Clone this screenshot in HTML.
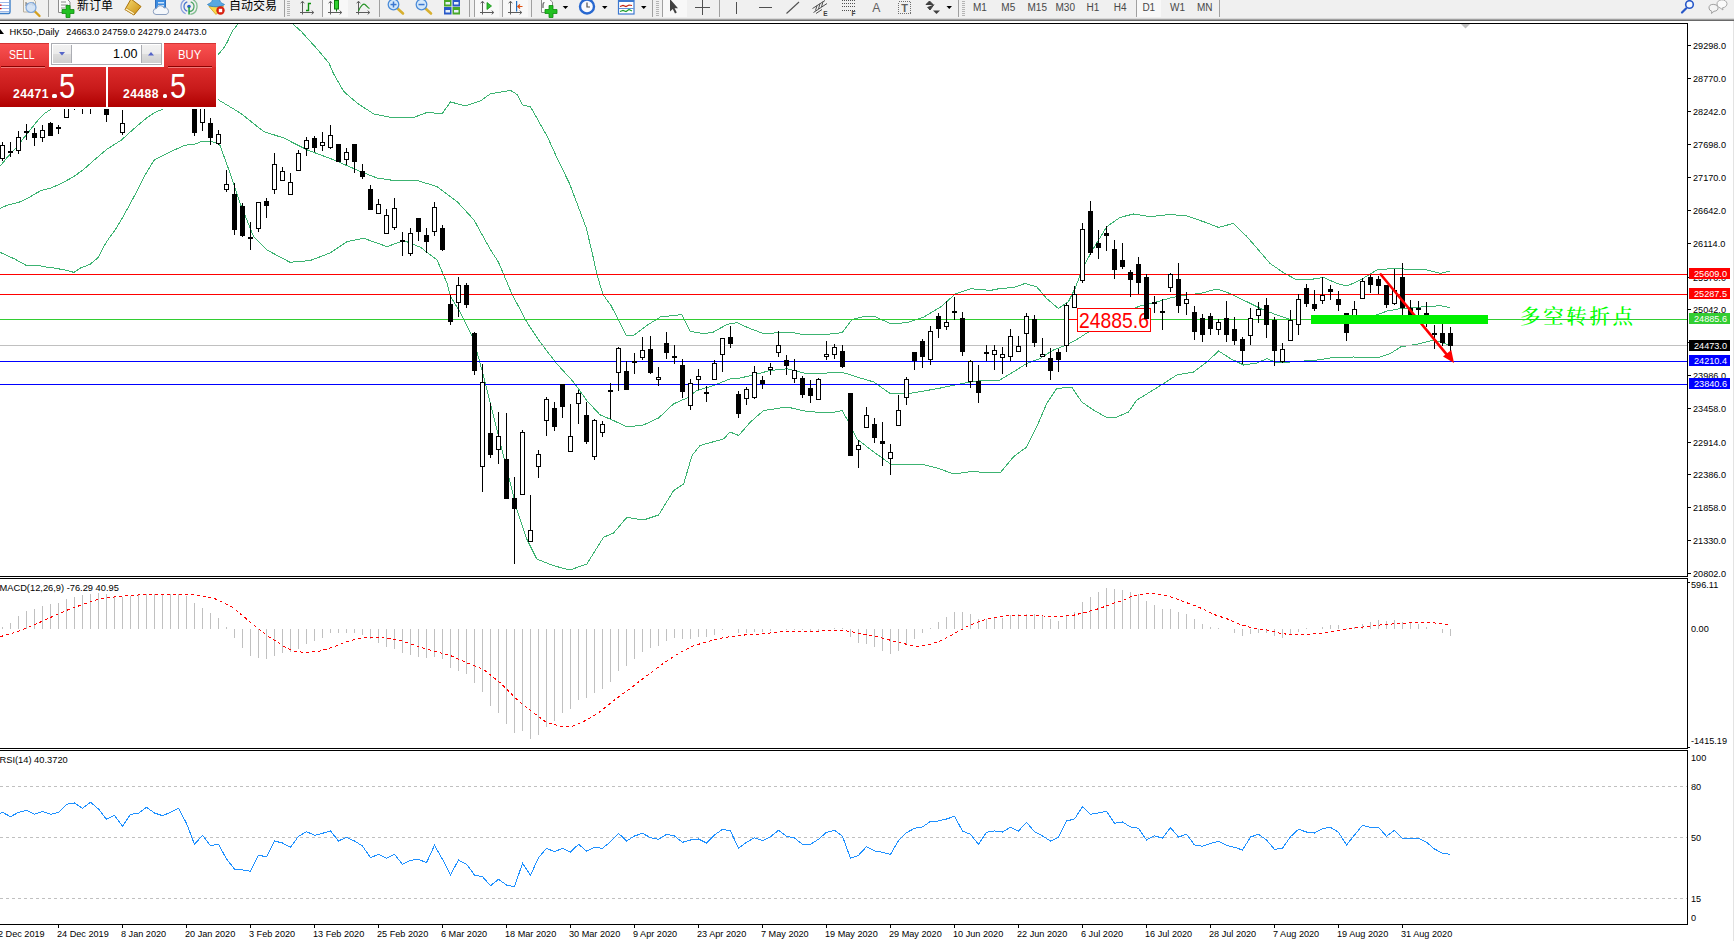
<!DOCTYPE html>
<html lang="zh"><head><meta charset="utf-8"><title>HK50 Daily</title>
<style>
html,body{margin:0;padding:0;background:#fff;}
body{width:1734px;height:941px;position:relative;overflow:hidden;font-family:"Liberation Sans", sans-serif;}
#tb{position:absolute;left:0;top:0;width:1734px;height:18px;background:#F0F0F0;overflow:hidden;}
.l18{position:absolute;left:0;width:1734px;height:1px;}
</style></head><body>
<svg id="chart" width="1734" height="941" viewBox="0 0 1734 941" style="position:absolute;left:0;top:0" font-family='"Liberation Sans", sans-serif' font-size="9.15px">
<g shape-rendering="crispEdges">
<rect x="0" y="23" width="1688" height="1" fill="#000" />
<rect x="0" y="576" width="1688" height="1" fill="#000" />
<rect x="0" y="578" width="1688" height="1" fill="#000" />
<rect x="0" y="748" width="1688" height="1" fill="#000" />
<rect x="0" y="750" width="1688" height="1" fill="#000" />
<rect x="0" y="924" width="1688" height="1" fill="#000" />
<rect x="1687" y="23" width="1" height="554" fill="#000"/>
<rect x="1687" y="578" width="1" height="171" fill="#000"/>
<rect x="1687" y="750" width="1" height="175" fill="#000"/>
<rect x="1733" y="21" width="1" height="920" fill="#E3E3E3"/>
</g>
<rect x="1688" y="45" width="3" height="1" fill="#000" shape-rendering="crispEdges"/>
<text x="1693" y="48.7">29298.0</text>
<rect x="1688" y="78" width="3" height="1" fill="#000" shape-rendering="crispEdges"/>
<text x="1693" y="81.7">28770.0</text>
<rect x="1688" y="111" width="3" height="1" fill="#000" shape-rendering="crispEdges"/>
<text x="1693" y="114.7">28242.0</text>
<rect x="1688" y="144" width="3" height="1" fill="#000" shape-rendering="crispEdges"/>
<text x="1693" y="147.7">27698.0</text>
<rect x="1688" y="177" width="3" height="1" fill="#000" shape-rendering="crispEdges"/>
<text x="1693" y="180.7">27170.0</text>
<rect x="1688" y="210" width="3" height="1" fill="#000" shape-rendering="crispEdges"/>
<text x="1693" y="213.7">26642.0</text>
<rect x="1688" y="243" width="3" height="1" fill="#000" shape-rendering="crispEdges"/>
<text x="1693" y="246.7">26114.0</text>
<rect x="1688" y="277" width="3" height="1" fill="#000" shape-rendering="crispEdges"/>
<text x="1693" y="280.7">25570.0</text>
<rect x="1688" y="309" width="3" height="1" fill="#000" shape-rendering="crispEdges"/>
<text x="1693" y="312.7">25042.0</text>
<rect x="1688" y="342" width="3" height="1" fill="#000" shape-rendering="crispEdges"/>
<text x="1693" y="345.7">24514.0</text>
<rect x="1688" y="375" width="3" height="1" fill="#000" shape-rendering="crispEdges"/>
<text x="1693" y="378.7">23986.0</text>
<rect x="1688" y="408" width="3" height="1" fill="#000" shape-rendering="crispEdges"/>
<text x="1693" y="411.7">23458.0</text>
<rect x="1688" y="442" width="3" height="1" fill="#000" shape-rendering="crispEdges"/>
<text x="1693" y="445.7">22914.0</text>
<rect x="1688" y="474" width="3" height="1" fill="#000" shape-rendering="crispEdges"/>
<text x="1693" y="477.7">22386.0</text>
<rect x="1688" y="507" width="3" height="1" fill="#000" shape-rendering="crispEdges"/>
<text x="1693" y="510.7">21858.0</text>
<rect x="1688" y="540" width="3" height="1" fill="#000" shape-rendering="crispEdges"/>
<text x="1693" y="543.7">21330.0</text>
<rect x="1688" y="573" width="3" height="1" fill="#000" shape-rendering="crispEdges"/>
<text x="1693" y="576.7">20802.0</text>
<defs><clipPath id="cpm"><rect x="0" y="24" width="1687" height="552"/></clipPath></defs>
<g shape-rendering="crispEdges" clip-path="url(#cpm)">
<polyline points="0.0,166.3 7.7,156.8 16.6,147.2 25.5,135.7 38.3,119.8 44.6,113.4 51.0,109.2 100.0,80.0 160.0,60.0 218.2,54.6 224.2,47.3 227.5,41.7 232.3,31.2 238.0,24.0 243.0,14.0 288.0,14.0 292.9,24.0 301.0,31.2 309.0,40.0 317.1,48.9 325.2,58.6 329.2,63.5 333.3,73.2 340.0,84.9 343.7,91.4 357.0,103.0 373.8,114.0 390.5,117.4 413.8,117.4 427.2,112.4 442.0,113.8 450.5,102.0 465.5,105.8 480.6,100.8 490.6,93.7 510.6,90.4 517.3,94.7 522.3,104.8 530.6,107.0 547.3,136.5 558.0,160.0 569.7,184.0 578.0,206.0 586.3,228.0 592.0,252.0 596.8,273.7 602.9,294.4 611.0,305.5 626.4,335.5 633.6,335.4 646.9,325.4 660.3,317.0 673.6,315.4 682.0,314.7 690.3,331.4 703.6,333.7 713.6,332.0 727.0,324.4 737.0,322.7 750.4,328.7 762.0,333.0 773.7,333.0 790.4,332.0 803.8,334.7 823.8,334.7 842.0,332.7 852.0,319.4 862.0,317.0 873.8,316.0 890.5,323.7 907.0,322.7 924.0,317.0 940.6,307.0 955.6,293.7 970.6,288.7 990.6,290.4 1000.0,288.5 1013.3,287.5 1025.0,283.5 1036.7,286.8 1046.7,298.5 1058.4,308.5 1068.4,301.8 1075.0,288.5 1083.4,266.8 1093.4,248.4 1106.8,226.7 1120.0,217.4 1133.5,214.0 1150.0,216.7 1170.0,214.4 1187.0,216.0 1203.6,221.7 1218.6,227.4 1233.6,223.4 1247.0,236.7 1260.0,251.7 1270.0,263.4 1283.7,272.8 1297.0,280.0 1310.4,279.5 1323.7,277.4 1337.0,283.5 1347.0,286.0 1360.4,280.0 1377.0,270.0 1393.8,268.4 1410.5,269.4 1427.0,270.0 1440.5,273.4 1450.5,270.8" fill="none" stroke="#3CB371" stroke-width="1" />
<polyline points="0.0,208.4 8.9,204.6 17.9,202.7 25.5,199.5 33.2,195.0 40.8,190.6 51.0,188.0 61.2,183.5 74.0,176.5 84.2,168.9 94.4,159.9 107.1,149.1 121.2,140.2 133.9,128.7 146.7,117.9 155.6,112.1 162.6,109.2 190.0,100.0 217.0,99.0 240.3,113.0 263.6,131.5 283.7,138.0 307.0,149.8 333.7,159.8 360.4,171.5 377.0,178.0 393.8,180.5 417.0,180.5 437.0,186.5 457.0,201.5 474.0,220.0 490.6,250.0 498.4,262.0 511.8,293.7 526.8,322.0 540.0,342.0 556.8,363.8 573.5,382.0 586.8,400.5 600.0,414.8 613.5,420.5 626.9,427.0 643.6,424.9 658.6,418.0 673.6,403.8 687.0,398.0 697.0,390.5 713.6,385.5 730.3,378.8 740.3,378.0 753.7,374.8 770.4,370.5 787.0,368.8 807.0,373.8 827.0,373.0 843.8,372.8 857.0,377.0 873.8,382.0 890.5,393.8 907.0,393.8 924.0,391.0 940.6,388.0 960.6,383.8 980.6,380.5 1000.0,380.0 1013.3,372.0 1026.7,363.5 1040.0,358.5 1053.4,350.0 1066.7,345.0 1078.4,338.5 1088.4,332.0 1100.0,325.0 1120.0,314.0 1140.0,306.0 1154.6,302.6 1170.0,298.0 1185.8,295.0 1200.0,293.5 1217.0,289.0 1230.0,293.5 1247.0,301.8 1263.6,310.0 1277.0,315.0 1290.0,319.5 1330.0,320.0 1376.0,315.0 1387.4,311.0 1401.0,308.4 1415.0,307.6 1429.0,306.3 1441.0,305.8 1449.8,307.6" fill="none" stroke="#3CB371" stroke-width="1" />
<polyline points="0.0,252.3 5.2,254.7 14.7,259.0 26.0,265.3 37.2,265.3 46.7,267.2 55.4,268.2 65.7,270.2 74.0,272.4 80.4,268.0 90.0,264.4 98.6,257.2 103.8,246.4 109.0,238.2 115.0,230.0 121.2,220.0 127.6,208.4 135.2,194.4 144.1,176.5 154.3,159.9 164.5,154.8 173.5,150.4 184.9,145.3 195.2,144.0 201.5,141.5 210.5,141.1 215.6,142.7 220.0,145.3 230.0,173.0 240.0,203.0 253.6,236.6 267.0,250.0 290.0,262.3 310.0,260.6 330.0,253.0 347.0,241.6 363.8,238.3 387.0,246.6 404.0,240.6 420.5,247.3 437.0,260.0 447.0,283.0 450.0,295.4 460.0,312.0 473.4,338.8 483.4,375.5 493.4,415.5 506.7,469.0 516.8,509.0 526.8,539.0 536.8,559.0 553.5,565.7 570.0,570.0 586.8,564.0 603.5,537.3 613.5,533.0 626.9,517.3 643.6,520.0 658.6,515.0 673.6,490.6 683.6,484.0 692.0,455.6 700.0,445.5 723.7,438.9 730.0,432.0 738.7,435.5 750.4,422.0 763.7,410.5 787.0,407.0 807.0,411.5 830.5,413.0 842.0,410.5 850.5,425.5 857.0,439.0 873.8,452.0 890.5,464.0 920.5,464.0 937.0,468.0 954.0,474.0 970.6,471.6 1000.0,473.0 1013.3,457.0 1026.7,447.0 1036.7,427.0 1046.7,403.6 1056.7,388.6 1071.7,387.0 1081.8,402.0 1093.4,410.0 1106.8,417.6 1116.8,417.0 1128.5,412.0 1136.8,400.0 1150.0,392.0 1163.5,383.6 1176.9,375.0 1193.6,372.0 1206.9,362.0 1218.6,351.0 1230.3,358.5 1243.6,365.0 1257.0,363.0 1267.0,358.5 1277.0,363.0 1290.3,362.0 1317.0,360.0 1333.7,357.5 1353.8,357.0 1377.0,358.0 1390.5,353.5 1400.5,347.0 1420.5,343.5 1433.8,340.0 1442.0,342.5 1450.5,346.0" fill="none" stroke="#3CB371" stroke-width="1" />
</g>
<g shape-rendering="crispEdges">
<rect x="0" y="274" width="1687" height="1" fill="#FF0000" />
<rect x="0" y="294" width="1687" height="1" fill="#FF0000" />
<rect x="0" y="319" width="1687" height="1" fill="#32CD32" />
<rect x="0" y="345" width="1687" height="1" fill="#C0C0C0" />
<rect x="0" y="361" width="1687" height="1" fill="#0000FF" />
<rect x="0" y="384" width="1687" height="1" fill="#0000FF" />
</g>
<rect x="1069" y="319" width="9" height="1" fill="#FF0000" shape-rendering="crispEdges"/>
<rect x="1077.5" y="308.5" width="73" height="23" fill="#fff" stroke="#FF0000" stroke-width="1" shape-rendering="crispEdges"/>
<text x="1079" y="328" font-size="21.5px" fill="#FF0000" textLength="70" lengthAdjust="spacingAndGlyphs">24885.6</text>
<g shape-rendering="crispEdges">
<rect x="2" y="142" width="1" height="19" fill="#000"/>
<rect x="0.5" y="145.5" width="4" height="13" fill="#fff" stroke="#000" stroke-width="1"/>
<rect x="10" y="142" width="1" height="15" fill="#000"/>
<rect x="8" y="151" width="5" height="2" fill="#000"/>
<rect x="18" y="131" width="1" height="23" fill="#000"/>
<rect x="16.5" y="137.5" width="4" height="13" fill="#fff" stroke="#000" stroke-width="1"/>
<rect x="26" y="124" width="1" height="16" fill="#000"/>
<rect x="24" y="131" width="5" height="2" fill="#000"/>
<rect x="34" y="128" width="1" height="18" fill="#000"/>
<rect x="32" y="133" width="5" height="5" fill="#000"/>
<rect x="42" y="125" width="1" height="17" fill="#000"/>
<rect x="40.5" y="130.5" width="4" height="7" fill="#fff" stroke="#000" stroke-width="1"/>
<rect x="50" y="122" width="1" height="14" fill="#000"/>
<rect x="48" y="123" width="5" height="13" fill="#000"/>
<rect x="58" y="125" width="1" height="9" fill="#000"/>
<rect x="56" y="127" width="5" height="2" fill="#000"/>
<rect x="66" y="83" width="1" height="35" fill="#000"/>
<rect x="64.5" y="90.5" width="4" height="27" fill="#fff" stroke="#000" stroke-width="1"/>
<rect x="74" y="74" width="1" height="36" fill="#000"/>
<rect x="72" y="83" width="5" height="3" fill="#000"/>
<rect x="82" y="74" width="1" height="40" fill="#000"/>
<rect x="80.5" y="83.5" width="4" height="6" fill="#fff" stroke="#000" stroke-width="1"/>
<rect x="90" y="74" width="1" height="40" fill="#000"/>
<rect x="88.5" y="83.5" width="4" height="6" fill="#fff" stroke="#000" stroke-width="1"/>
<rect x="98" y="74" width="1" height="24" fill="#000"/>
<rect x="96.5" y="83.5" width="4" height="6" fill="#fff" stroke="#000" stroke-width="1"/>
<rect x="106" y="83" width="1" height="39" fill="#000"/>
<rect x="104" y="90" width="5" height="25" fill="#000"/>
<rect x="114" y="74" width="1" height="24" fill="#000"/>
<rect x="112.5" y="83.5" width="4" height="6" fill="#fff" stroke="#000" stroke-width="1"/>
<rect x="122" y="110" width="1" height="25" fill="#000"/>
<rect x="120.5" y="123.5" width="4" height="9" fill="#fff" stroke="#000" stroke-width="1"/>
<rect x="130" y="74" width="1" height="24" fill="#000"/>
<rect x="128.5" y="83.5" width="4" height="6" fill="#fff" stroke="#000" stroke-width="1"/>
<rect x="138" y="74" width="1" height="24" fill="#000"/>
<rect x="136" y="83" width="5" height="7" fill="#000"/>
<rect x="146" y="74" width="1" height="24" fill="#000"/>
<rect x="144.5" y="83.5" width="4" height="6" fill="#fff" stroke="#000" stroke-width="1"/>
<rect x="154" y="74" width="1" height="24" fill="#000"/>
<rect x="152.5" y="83.5" width="4" height="6" fill="#fff" stroke="#000" stroke-width="1"/>
<rect x="162" y="74" width="1" height="24" fill="#000"/>
<rect x="160" y="83" width="5" height="7" fill="#000"/>
<rect x="170" y="74" width="1" height="24" fill="#000"/>
<rect x="168.5" y="83.5" width="4" height="6" fill="#fff" stroke="#000" stroke-width="1"/>
<rect x="178" y="74" width="1" height="24" fill="#000"/>
<rect x="176.5" y="83.5" width="4" height="6" fill="#fff" stroke="#000" stroke-width="1"/>
<rect x="186" y="74" width="1" height="24" fill="#000"/>
<rect x="184.5" y="83.5" width="4" height="6" fill="#fff" stroke="#000" stroke-width="1"/>
<rect x="194" y="65" width="1" height="71" fill="#000"/>
<rect x="192" y="74" width="5" height="59" fill="#000"/>
<rect x="202" y="74" width="1" height="57" fill="#000"/>
<rect x="200.5" y="83.5" width="4" height="39" fill="#fff" stroke="#000" stroke-width="1"/>
<rect x="210" y="118" width="1" height="27" fill="#000"/>
<rect x="208" y="123" width="5" height="15" fill="#000"/>
<rect x="218" y="130" width="1" height="15" fill="#000"/>
<rect x="216.5" y="134.5" width="4" height="9" fill="#fff" stroke="#000" stroke-width="1"/>
<rect x="226" y="170" width="1" height="22" fill="#000"/>
<rect x="224.5" y="184.5" width="4" height="5" fill="#fff" stroke="#000" stroke-width="1"/>
<rect x="234" y="183" width="1" height="52" fill="#000"/>
<rect x="232" y="194" width="5" height="36" fill="#000"/>
<rect x="242" y="203" width="1" height="34" fill="#000"/>
<rect x="240" y="206" width="5" height="30" fill="#000"/>
<rect x="250" y="222" width="1" height="28" fill="#000"/>
<rect x="248" y="237" width="5" height="2" fill="#000"/>
<rect x="258" y="202" width="1" height="30" fill="#000"/>
<rect x="256.5" y="202.5" width="4" height="26" fill="#fff" stroke="#000" stroke-width="1"/>
<rect x="266" y="198" width="1" height="20" fill="#000"/>
<rect x="264" y="201" width="5" height="5" fill="#000"/>
<rect x="274" y="153" width="1" height="41" fill="#000"/>
<rect x="272.5" y="164.5" width="4" height="25" fill="#fff" stroke="#000" stroke-width="1"/>
<rect x="282" y="167" width="1" height="14" fill="#000"/>
<rect x="280.5" y="171.5" width="4" height="9" fill="#fff" stroke="#000" stroke-width="1"/>
<rect x="290" y="173" width="1" height="22" fill="#000"/>
<rect x="288.5" y="182.5" width="4" height="12" fill="#fff" stroke="#000" stroke-width="1"/>
<rect x="298" y="150" width="1" height="21" fill="#000"/>
<rect x="296.5" y="153.5" width="4" height="17" fill="#fff" stroke="#000" stroke-width="1"/>
<rect x="306" y="137" width="1" height="19" fill="#000"/>
<rect x="304.5" y="140.5" width="4" height="8" fill="#fff" stroke="#000" stroke-width="1"/>
<rect x="314" y="136" width="1" height="16" fill="#000"/>
<rect x="312" y="138" width="5" height="10" fill="#000"/>
<rect x="322" y="132" width="1" height="19" fill="#000"/>
<rect x="320.5" y="142.5" width="4" height="3" fill="#fff" stroke="#000" stroke-width="1"/>
<rect x="330" y="125" width="1" height="24" fill="#000"/>
<rect x="328.5" y="135.5" width="4" height="12" fill="#fff" stroke="#000" stroke-width="1"/>
<rect x="338" y="144" width="1" height="18" fill="#000"/>
<rect x="336" y="144" width="5" height="18" fill="#000"/>
<rect x="346" y="148" width="1" height="17" fill="#000"/>
<rect x="344.5" y="152.5" width="4" height="7" fill="#fff" stroke="#000" stroke-width="1"/>
<rect x="354" y="144" width="1" height="29" fill="#000"/>
<rect x="352" y="144" width="5" height="18" fill="#000"/>
<rect x="362" y="164" width="1" height="15" fill="#000"/>
<rect x="360" y="171" width="5" height="6" fill="#000"/>
<rect x="370" y="185" width="1" height="25" fill="#000"/>
<rect x="368" y="189" width="5" height="21" fill="#000"/>
<rect x="378" y="199" width="1" height="15" fill="#000"/>
<rect x="376.5" y="204.5" width="4" height="9" fill="#fff" stroke="#000" stroke-width="1"/>
<rect x="386" y="209" width="1" height="25" fill="#000"/>
<rect x="384.5" y="215.5" width="4" height="18" fill="#fff" stroke="#000" stroke-width="1"/>
<rect x="394" y="198" width="1" height="32" fill="#000"/>
<rect x="392.5" y="208.5" width="4" height="19" fill="#fff" stroke="#000" stroke-width="1"/>
<rect x="402" y="232" width="1" height="24" fill="#000"/>
<rect x="400" y="240" width="5" height="2" fill="#000"/>
<rect x="410" y="228" width="1" height="28" fill="#000"/>
<rect x="408.5" y="233.5" width="4" height="20" fill="#fff" stroke="#000" stroke-width="1"/>
<rect x="418" y="218" width="1" height="23" fill="#000"/>
<rect x="416" y="218" width="5" height="14" fill="#000"/>
<rect x="426" y="228" width="1" height="25" fill="#000"/>
<rect x="424" y="235" width="5" height="7" fill="#000"/>
<rect x="434" y="202" width="1" height="34" fill="#000"/>
<rect x="432.5" y="207.5" width="4" height="24" fill="#fff" stroke="#000" stroke-width="1"/>
<rect x="442" y="225" width="1" height="26" fill="#000"/>
<rect x="440" y="228" width="5" height="22" fill="#000"/>
<rect x="450" y="295" width="1" height="30" fill="#000"/>
<rect x="448" y="304" width="5" height="18" fill="#000"/>
<rect x="458" y="277" width="1" height="40" fill="#000"/>
<rect x="456.5" y="285.5" width="4" height="17" fill="#fff" stroke="#000" stroke-width="1"/>
<rect x="466" y="283" width="1" height="25" fill="#000"/>
<rect x="464" y="285" width="5" height="20" fill="#000"/>
<rect x="474" y="332" width="1" height="43" fill="#000"/>
<rect x="472" y="333" width="5" height="38" fill="#000"/>
<rect x="482" y="364" width="1" height="128" fill="#000"/>
<rect x="480.5" y="382.5" width="4" height="84" fill="#fff" stroke="#000" stroke-width="1"/>
<rect x="490" y="403" width="1" height="55" fill="#000"/>
<rect x="488" y="433" width="5" height="22" fill="#000"/>
<rect x="498" y="412" width="1" height="52" fill="#000"/>
<rect x="496.5" y="436.5" width="4" height="13" fill="#fff" stroke="#000" stroke-width="1"/>
<rect x="506" y="413" width="1" height="86" fill="#000"/>
<rect x="504" y="459" width="5" height="40" fill="#000"/>
<rect x="514" y="477" width="1" height="87" fill="#000"/>
<rect x="512" y="498" width="5" height="11" fill="#000"/>
<rect x="522" y="430" width="1" height="65" fill="#000"/>
<rect x="520.5" y="432.5" width="4" height="62" fill="#fff" stroke="#000" stroke-width="1"/>
<rect x="530" y="495" width="1" height="47" fill="#000"/>
<rect x="528.5" y="530.5" width="4" height="11" fill="#fff" stroke="#000" stroke-width="1"/>
<rect x="538" y="450" width="1" height="28" fill="#000"/>
<rect x="536.5" y="454.5" width="4" height="12" fill="#fff" stroke="#000" stroke-width="1"/>
<rect x="546" y="397" width="1" height="39" fill="#000"/>
<rect x="544.5" y="399.5" width="4" height="21" fill="#fff" stroke="#000" stroke-width="1"/>
<rect x="554" y="402" width="1" height="29" fill="#000"/>
<rect x="552" y="408" width="5" height="19" fill="#000"/>
<rect x="562" y="384" width="1" height="34" fill="#000"/>
<rect x="560" y="384" width="5" height="23" fill="#000"/>
<rect x="570" y="404" width="1" height="48" fill="#000"/>
<rect x="568.5" y="436.5" width="4" height="15" fill="#fff" stroke="#000" stroke-width="1"/>
<rect x="578" y="390" width="1" height="34" fill="#000"/>
<rect x="576.5" y="393.5" width="4" height="10" fill="#fff" stroke="#000" stroke-width="1"/>
<rect x="586" y="402" width="1" height="42" fill="#000"/>
<rect x="584" y="415" width="5" height="27" fill="#000"/>
<rect x="594" y="419" width="1" height="41" fill="#000"/>
<rect x="592.5" y="420.5" width="4" height="36" fill="#fff" stroke="#000" stroke-width="1"/>
<rect x="602" y="421" width="1" height="16" fill="#000"/>
<rect x="600.5" y="424.5" width="4" height="8" fill="#fff" stroke="#000" stroke-width="1"/>
<rect x="610" y="383" width="1" height="36" fill="#000"/>
<rect x="608" y="390" width="5" height="2" fill="#000"/>
<rect x="618" y="347" width="1" height="44" fill="#000"/>
<rect x="616.5" y="348.5" width="4" height="24" fill="#fff" stroke="#000" stroke-width="1"/>
<rect x="626" y="361" width="1" height="29" fill="#000"/>
<rect x="624" y="371" width="5" height="19" fill="#000"/>
<rect x="634" y="353" width="1" height="21" fill="#000"/>
<rect x="632" y="361" width="5" height="2" fill="#000"/>
<rect x="642" y="337" width="1" height="23" fill="#000"/>
<rect x="640.5" y="350.5" width="4" height="7" fill="#fff" stroke="#000" stroke-width="1"/>
<rect x="650" y="336" width="1" height="38" fill="#000"/>
<rect x="648" y="349" width="5" height="24" fill="#000"/>
<rect x="658" y="367" width="1" height="19" fill="#000"/>
<rect x="656.5" y="377.5" width="4" height="2" fill="#fff" stroke="#000" stroke-width="1"/>
<rect x="666" y="332" width="1" height="27" fill="#000"/>
<rect x="664" y="343" width="5" height="10" fill="#000"/>
<rect x="674" y="345" width="1" height="19" fill="#000"/>
<rect x="672" y="356" width="5" height="2" fill="#000"/>
<rect x="682" y="359" width="1" height="39" fill="#000"/>
<rect x="680" y="365" width="5" height="27" fill="#000"/>
<rect x="690" y="379" width="1" height="31" fill="#000"/>
<rect x="688.5" y="383.5" width="4" height="22" fill="#fff" stroke="#000" stroke-width="1"/>
<rect x="698" y="369" width="1" height="21" fill="#000"/>
<rect x="696.5" y="376.5" width="4" height="3" fill="#fff" stroke="#000" stroke-width="1"/>
<rect x="706" y="386" width="1" height="16" fill="#000"/>
<rect x="704" y="392" width="5" height="2" fill="#000"/>
<rect x="714" y="360" width="1" height="20" fill="#000"/>
<rect x="712.5" y="363.5" width="4" height="16" fill="#fff" stroke="#000" stroke-width="1"/>
<rect x="722" y="338" width="1" height="34" fill="#000"/>
<rect x="720.5" y="338.5" width="4" height="16" fill="#fff" stroke="#000" stroke-width="1"/>
<rect x="730" y="326" width="1" height="22" fill="#000"/>
<rect x="728" y="337" width="5" height="7" fill="#000"/>
<rect x="738" y="391" width="1" height="27" fill="#000"/>
<rect x="736" y="394" width="5" height="20" fill="#000"/>
<rect x="746" y="387" width="1" height="18" fill="#000"/>
<rect x="744.5" y="389.5" width="4" height="9" fill="#fff" stroke="#000" stroke-width="1"/>
<rect x="754" y="366" width="1" height="33" fill="#000"/>
<rect x="752.5" y="372.5" width="4" height="25" fill="#fff" stroke="#000" stroke-width="1"/>
<rect x="762" y="376" width="1" height="13" fill="#000"/>
<rect x="760" y="380" width="5" height="4" fill="#000"/>
<rect x="770" y="363" width="1" height="12" fill="#000"/>
<rect x="768.5" y="367.5" width="4" height="2" fill="#fff" stroke="#000" stroke-width="1"/>
<rect x="778" y="331" width="1" height="26" fill="#000"/>
<rect x="776.5" y="345.5" width="4" height="7" fill="#fff" stroke="#000" stroke-width="1"/>
<rect x="786" y="355" width="1" height="20" fill="#000"/>
<rect x="784" y="360" width="5" height="6" fill="#000"/>
<rect x="794" y="359" width="1" height="24" fill="#000"/>
<rect x="792.5" y="370.5" width="4" height="8" fill="#fff" stroke="#000" stroke-width="1"/>
<rect x="802" y="376" width="1" height="22" fill="#000"/>
<rect x="800" y="378" width="5" height="17" fill="#000"/>
<rect x="810" y="380" width="1" height="23" fill="#000"/>
<rect x="808" y="388" width="5" height="8" fill="#000"/>
<rect x="818" y="378" width="1" height="22" fill="#000"/>
<rect x="816.5" y="379.5" width="4" height="20" fill="#fff" stroke="#000" stroke-width="1"/>
<rect x="826" y="341" width="1" height="19" fill="#000"/>
<rect x="824.5" y="354.5" width="4" height="2" fill="#fff" stroke="#000" stroke-width="1"/>
<rect x="834" y="344" width="1" height="15" fill="#000"/>
<rect x="832.5" y="347.5" width="4" height="7" fill="#fff" stroke="#000" stroke-width="1"/>
<rect x="842" y="345" width="1" height="23" fill="#000"/>
<rect x="840" y="351" width="5" height="16" fill="#000"/>
<rect x="850" y="393" width="1" height="63" fill="#000"/>
<rect x="848" y="393" width="5" height="63" fill="#000"/>
<rect x="858" y="440" width="1" height="28" fill="#000"/>
<rect x="856.5" y="445.5" width="4" height="4" fill="#fff" stroke="#000" stroke-width="1"/>
<rect x="866" y="407" width="1" height="21" fill="#000"/>
<rect x="864.5" y="415.5" width="4" height="12" fill="#fff" stroke="#000" stroke-width="1"/>
<rect x="874" y="418" width="1" height="25" fill="#000"/>
<rect x="872" y="424" width="5" height="14" fill="#000"/>
<rect x="882" y="422" width="1" height="44" fill="#000"/>
<rect x="880" y="441" width="5" height="3" fill="#000"/>
<rect x="890" y="444" width="1" height="31" fill="#000"/>
<rect x="888.5" y="452.5" width="4" height="6" fill="#fff" stroke="#000" stroke-width="1"/>
<rect x="898" y="395" width="1" height="31" fill="#000"/>
<rect x="896.5" y="410.5" width="4" height="15" fill="#fff" stroke="#000" stroke-width="1"/>
<rect x="906" y="377" width="1" height="28" fill="#000"/>
<rect x="904.5" y="379.5" width="4" height="18" fill="#fff" stroke="#000" stroke-width="1"/>
<rect x="914" y="352" width="1" height="18" fill="#000"/>
<rect x="912" y="352" width="5" height="9" fill="#000"/>
<rect x="922" y="339" width="1" height="29" fill="#000"/>
<rect x="920" y="341" width="5" height="16" fill="#000"/>
<rect x="930" y="326" width="1" height="39" fill="#000"/>
<rect x="928.5" y="331.5" width="4" height="28" fill="#fff" stroke="#000" stroke-width="1"/>
<rect x="938" y="313" width="1" height="25" fill="#000"/>
<rect x="936" y="316" width="5" height="13" fill="#000"/>
<rect x="946" y="301" width="1" height="29" fill="#000"/>
<rect x="944.5" y="322.5" width="4" height="4" fill="#fff" stroke="#000" stroke-width="1"/>
<rect x="954" y="297" width="1" height="23" fill="#000"/>
<rect x="952" y="311" width="5" height="2" fill="#000"/>
<rect x="962" y="312" width="1" height="44" fill="#000"/>
<rect x="960" y="318" width="5" height="34" fill="#000"/>
<rect x="970" y="360" width="1" height="28" fill="#000"/>
<rect x="968.5" y="361.5" width="4" height="20" fill="#fff" stroke="#000" stroke-width="1"/>
<rect x="978" y="365" width="1" height="38" fill="#000"/>
<rect x="976" y="381" width="5" height="12" fill="#000"/>
<rect x="986" y="345" width="1" height="16" fill="#000"/>
<rect x="984" y="352" width="5" height="2" fill="#000"/>
<rect x="994" y="345" width="1" height="25" fill="#000"/>
<rect x="992.5" y="350.5" width="4" height="4" fill="#fff" stroke="#000" stroke-width="1"/>
<rect x="1002" y="347" width="1" height="27" fill="#000"/>
<rect x="1000.5" y="354.5" width="4" height="3" fill="#fff" stroke="#000" stroke-width="1"/>
<rect x="1010" y="329" width="1" height="32" fill="#000"/>
<rect x="1008.5" y="336.5" width="4" height="20" fill="#fff" stroke="#000" stroke-width="1"/>
<rect x="1018" y="336" width="1" height="16" fill="#000"/>
<rect x="1016.5" y="346.5" width="4" height="5" fill="#fff" stroke="#000" stroke-width="1"/>
<rect x="1026" y="313" width="1" height="54" fill="#000"/>
<rect x="1024.5" y="316.5" width="4" height="17" fill="#fff" stroke="#000" stroke-width="1"/>
<rect x="1034" y="315" width="1" height="32" fill="#000"/>
<rect x="1032" y="319" width="5" height="24" fill="#000"/>
<rect x="1042" y="338" width="1" height="19" fill="#000"/>
<rect x="1040.5" y="354.5" width="4" height="2" fill="#fff" stroke="#000" stroke-width="1"/>
<rect x="1050" y="348" width="1" height="32" fill="#000"/>
<rect x="1048" y="358" width="5" height="13" fill="#000"/>
<rect x="1058" y="349" width="1" height="23" fill="#000"/>
<rect x="1056" y="352" width="5" height="8" fill="#000"/>
<rect x="1066" y="303" width="1" height="49" fill="#000"/>
<rect x="1064.5" y="305.5" width="4" height="40" fill="#fff" stroke="#000" stroke-width="1"/>
<rect x="1074" y="286" width="1" height="22" fill="#000"/>
<rect x="1072.5" y="294.5" width="4" height="13" fill="#fff" stroke="#000" stroke-width="1"/>
<rect x="1082" y="223" width="1" height="60" fill="#000"/>
<rect x="1080.5" y="229.5" width="4" height="51" fill="#fff" stroke="#000" stroke-width="1"/>
<rect x="1090" y="201" width="1" height="54" fill="#000"/>
<rect x="1088" y="211" width="5" height="42" fill="#000"/>
<rect x="1098" y="230" width="1" height="29" fill="#000"/>
<rect x="1096" y="243" width="5" height="5" fill="#000"/>
<rect x="1106" y="226" width="1" height="25" fill="#000"/>
<rect x="1104" y="233" width="5" height="3" fill="#000"/>
<rect x="1114" y="240" width="1" height="39" fill="#000"/>
<rect x="1112" y="249" width="5" height="21" fill="#000"/>
<rect x="1122" y="243" width="1" height="26" fill="#000"/>
<rect x="1120" y="260" width="5" height="7" fill="#000"/>
<rect x="1130" y="270" width="1" height="27" fill="#000"/>
<rect x="1128" y="272" width="5" height="8" fill="#000"/>
<rect x="1138" y="257" width="1" height="37" fill="#000"/>
<rect x="1136" y="264" width="5" height="19" fill="#000"/>
<rect x="1146" y="274" width="1" height="45" fill="#000"/>
<rect x="1144" y="277" width="5" height="42" fill="#000"/>
<rect x="1154" y="296" width="1" height="17" fill="#000"/>
<rect x="1152" y="302" width="5" height="2" fill="#000"/>
<rect x="1162" y="299" width="1" height="31" fill="#000"/>
<rect x="1160" y="311" width="5" height="2" fill="#000"/>
<rect x="1170" y="273" width="1" height="19" fill="#000"/>
<rect x="1168.5" y="274.5" width="4" height="13" fill="#fff" stroke="#000" stroke-width="1"/>
<rect x="1178" y="263" width="1" height="50" fill="#000"/>
<rect x="1176" y="279" width="5" height="27" fill="#000"/>
<rect x="1186" y="292" width="1" height="23" fill="#000"/>
<rect x="1184.5" y="299.5" width="4" height="4" fill="#fff" stroke="#000" stroke-width="1"/>
<rect x="1194" y="306" width="1" height="34" fill="#000"/>
<rect x="1192" y="312" width="5" height="20" fill="#000"/>
<rect x="1202" y="314" width="1" height="28" fill="#000"/>
<rect x="1200" y="318" width="5" height="17" fill="#000"/>
<rect x="1210" y="313" width="1" height="22" fill="#000"/>
<rect x="1208" y="316" width="5" height="13" fill="#000"/>
<rect x="1218" y="319" width="1" height="16" fill="#000"/>
<rect x="1216.5" y="322.5" width="4" height="7" fill="#fff" stroke="#000" stroke-width="1"/>
<rect x="1226" y="301" width="1" height="41" fill="#000"/>
<rect x="1224" y="318" width="5" height="17" fill="#000"/>
<rect x="1234" y="317" width="1" height="28" fill="#000"/>
<rect x="1232" y="329" width="5" height="12" fill="#000"/>
<rect x="1242" y="337" width="1" height="27" fill="#000"/>
<rect x="1240" y="339" width="5" height="12" fill="#000"/>
<rect x="1250" y="308" width="1" height="37" fill="#000"/>
<rect x="1248.5" y="318.5" width="4" height="17" fill="#fff" stroke="#000" stroke-width="1"/>
<rect x="1258" y="302" width="1" height="21" fill="#000"/>
<rect x="1256.5" y="309.5" width="4" height="6" fill="#fff" stroke="#000" stroke-width="1"/>
<rect x="1266" y="298" width="1" height="40" fill="#000"/>
<rect x="1264" y="305" width="5" height="20" fill="#000"/>
<rect x="1274" y="317" width="1" height="49" fill="#000"/>
<rect x="1272" y="320" width="5" height="31" fill="#000"/>
<rect x="1282" y="343" width="1" height="20" fill="#000"/>
<rect x="1280.5" y="349.5" width="4" height="12" fill="#fff" stroke="#000" stroke-width="1"/>
<rect x="1290" y="310" width="1" height="31" fill="#000"/>
<rect x="1288.5" y="320.5" width="4" height="20" fill="#fff" stroke="#000" stroke-width="1"/>
<rect x="1298" y="294" width="1" height="41" fill="#000"/>
<rect x="1296.5" y="299.5" width="4" height="25" fill="#fff" stroke="#000" stroke-width="1"/>
<rect x="1306" y="284" width="1" height="23" fill="#000"/>
<rect x="1304" y="288" width="5" height="16" fill="#000"/>
<rect x="1314" y="290" width="1" height="21" fill="#000"/>
<rect x="1312" y="304" width="5" height="5" fill="#000"/>
<rect x="1322" y="277" width="1" height="27" fill="#000"/>
<rect x="1320.5" y="295.5" width="4" height="5" fill="#fff" stroke="#000" stroke-width="1"/>
<rect x="1330" y="285" width="1" height="15" fill="#000"/>
<rect x="1328" y="289" width="5" height="3" fill="#000"/>
<rect x="1338" y="291" width="1" height="20" fill="#000"/>
<rect x="1336" y="299" width="5" height="6" fill="#000"/>
<rect x="1346" y="313" width="1" height="28" fill="#000"/>
<rect x="1344" y="313" width="5" height="20" fill="#000"/>
<rect x="1354" y="301" width="1" height="20" fill="#000"/>
<rect x="1352.5" y="309.5" width="4" height="10" fill="#fff" stroke="#000" stroke-width="1"/>
<rect x="1362" y="278" width="1" height="21" fill="#000"/>
<rect x="1360.5" y="281.5" width="4" height="17" fill="#fff" stroke="#000" stroke-width="1"/>
<rect x="1370" y="275" width="1" height="18" fill="#000"/>
<rect x="1368" y="277" width="5" height="8" fill="#000"/>
<rect x="1378" y="276" width="1" height="18" fill="#000"/>
<rect x="1376" y="279" width="5" height="7" fill="#000"/>
<rect x="1386" y="285" width="1" height="23" fill="#000"/>
<rect x="1384" y="285" width="5" height="20" fill="#000"/>
<rect x="1394" y="269" width="1" height="36" fill="#000"/>
<rect x="1392.5" y="290.5" width="4" height="13" fill="#fff" stroke="#000" stroke-width="1"/>
<rect x="1402" y="263" width="1" height="53" fill="#000"/>
<rect x="1400" y="277" width="5" height="31" fill="#000"/>
<rect x="1410" y="300" width="1" height="21" fill="#000"/>
<rect x="1408" y="308" width="5" height="8" fill="#000"/>
<rect x="1418" y="301" width="1" height="20" fill="#000"/>
<rect x="1416" y="308" width="5" height="2" fill="#000"/>
<rect x="1426" y="302" width="1" height="25" fill="#000"/>
<rect x="1424" y="313" width="5" height="8" fill="#000"/>
<rect x="1434" y="325" width="1" height="24" fill="#000"/>
<rect x="1432" y="333" width="5" height="2" fill="#000"/>
<rect x="1442" y="324" width="1" height="22" fill="#000"/>
<rect x="1440" y="333" width="5" height="10" fill="#000"/>
<rect x="1450" y="327" width="1" height="25" fill="#000"/>
<rect x="1448" y="333" width="5" height="13" fill="#000"/>
</g>
<line x1="1380" y1="273.5" x2="1449.5" y2="357.8" stroke="#FF0000" stroke-width="2.6"/>
<polygon points="1454,363 1443,356.6 1451.3,350" fill="#FF0000"/>
<rect x="1311" y="315" width="177" height="9" fill="#00F000" shape-rendering="crispEdges"/>
<text x="1520" y="324.3" font-size="20.5px" fill="#00FF00" font-family='"Noto Serif CJK SC","Noto Sans CJK SC",serif' font-weight="500" textLength="113" lengthAdjust="spacing">多空转折点</text>
<rect x="1689" y="268" width="41" height="11" fill="#FF0000" shape-rendering="crispEdges"/>
<text x="1694" y="276.9" fill="#fff">25609.0</text>
<rect x="1689" y="288" width="41" height="11" fill="#FF0000" shape-rendering="crispEdges"/>
<text x="1694" y="296.9" fill="#fff">25287.5</text>
<rect x="1689" y="313" width="41" height="11" fill="#32CD32" shape-rendering="crispEdges"/>
<text x="1694" y="321.9" fill="#fff">24885.6</text>
<rect x="1689" y="340" width="41" height="11" fill="#000" shape-rendering="crispEdges"/>
<text x="1694" y="348.9" fill="#fff">24473.0</text>
<rect x="1689" y="355" width="41" height="11" fill="#0000FF" shape-rendering="crispEdges"/>
<text x="1694" y="363.9" fill="#fff">24210.4</text>
<rect x="1689" y="378" width="41" height="11" fill="#0000FF" shape-rendering="crispEdges"/>
<text x="1694" y="386.9" fill="#fff">23840.6</text>
<polygon points="1461,24 1470,24 1465.5,28.5" fill="#C0C0C0"/>
<polygon points="0,29 0,34 4,34" fill="#000"/>
<text x="9.5" y="35.3" font-size="9.2px" textLength="49.7" lengthAdjust="spacingAndGlyphs">HK50-,Daily</text>
<text x="66.3" y="35.3" font-size="9.2px" textLength="140.3" lengthAdjust="spacingAndGlyphs">24663.0 24759.0 24279.0 24473.0</text>
<g shape-rendering="crispEdges">
<rect x="2" y="627" width="1" height="2" fill="#C0C0C0"/>
<rect x="10" y="623" width="1" height="6" fill="#C0C0C0"/>
<rect x="18" y="616" width="1" height="13" fill="#C0C0C0"/>
<rect x="26" y="611" width="1" height="18" fill="#C0C0C0"/>
<rect x="34" y="609" width="1" height="20" fill="#C0C0C0"/>
<rect x="42" y="606" width="1" height="23" fill="#C0C0C0"/>
<rect x="50" y="604" width="1" height="25" fill="#C0C0C0"/>
<rect x="58" y="603" width="1" height="26" fill="#C0C0C0"/>
<rect x="66" y="599" width="1" height="30" fill="#C0C0C0"/>
<rect x="74" y="597" width="1" height="32" fill="#C0C0C0"/>
<rect x="82" y="595" width="1" height="34" fill="#C0C0C0"/>
<rect x="90" y="594" width="1" height="35" fill="#C0C0C0"/>
<rect x="98" y="593" width="1" height="36" fill="#C0C0C0"/>
<rect x="106" y="594" width="1" height="35" fill="#C0C0C0"/>
<rect x="114" y="596" width="1" height="33" fill="#C0C0C0"/>
<rect x="122" y="597" width="1" height="32" fill="#C0C0C0"/>
<rect x="130" y="596" width="1" height="33" fill="#C0C0C0"/>
<rect x="138" y="595" width="1" height="34" fill="#C0C0C0"/>
<rect x="146" y="594" width="1" height="35" fill="#C0C0C0"/>
<rect x="154" y="594" width="1" height="35" fill="#C0C0C0"/>
<rect x="162" y="594" width="1" height="35" fill="#C0C0C0"/>
<rect x="170" y="594" width="1" height="35" fill="#C0C0C0"/>
<rect x="178" y="594" width="1" height="35" fill="#C0C0C0"/>
<rect x="186" y="596" width="1" height="33" fill="#C0C0C0"/>
<rect x="194" y="603" width="1" height="26" fill="#C0C0C0"/>
<rect x="202" y="608" width="1" height="21" fill="#C0C0C0"/>
<rect x="210" y="613" width="1" height="16" fill="#C0C0C0"/>
<rect x="218" y="618" width="1" height="11" fill="#C0C0C0"/>
<rect x="226" y="627" width="1" height="2" fill="#C0C0C0"/>
<rect x="234" y="629" width="1" height="9" fill="#C0C0C0"/>
<rect x="242" y="629" width="1" height="19" fill="#C0C0C0"/>
<rect x="250" y="629" width="1" height="27" fill="#C0C0C0"/>
<rect x="258" y="629" width="1" height="29" fill="#C0C0C0"/>
<rect x="266" y="629" width="1" height="30" fill="#C0C0C0"/>
<rect x="274" y="629" width="1" height="27" fill="#C0C0C0"/>
<rect x="282" y="629" width="1" height="24" fill="#C0C0C0"/>
<rect x="290" y="629" width="1" height="23" fill="#C0C0C0"/>
<rect x="298" y="629" width="1" height="20" fill="#C0C0C0"/>
<rect x="306" y="629" width="1" height="15" fill="#C0C0C0"/>
<rect x="314" y="629" width="1" height="12" fill="#C0C0C0"/>
<rect x="322" y="629" width="1" height="9" fill="#C0C0C0"/>
<rect x="330" y="629" width="1" height="4" fill="#C0C0C0"/>
<rect x="338" y="629" width="1" height="4" fill="#C0C0C0"/>
<rect x="346" y="629" width="1" height="4" fill="#C0C0C0"/>
<rect x="354" y="629" width="1" height="4" fill="#C0C0C0"/>
<rect x="362" y="629" width="1" height="6" fill="#C0C0C0"/>
<rect x="370" y="629" width="1" height="10" fill="#C0C0C0"/>
<rect x="378" y="629" width="1" height="14" fill="#C0C0C0"/>
<rect x="386" y="629" width="1" height="18" fill="#C0C0C0"/>
<rect x="394" y="629" width="1" height="20" fill="#C0C0C0"/>
<rect x="402" y="629" width="1" height="24" fill="#C0C0C0"/>
<rect x="410" y="629" width="1" height="26" fill="#C0C0C0"/>
<rect x="418" y="629" width="1" height="28" fill="#C0C0C0"/>
<rect x="426" y="629" width="1" height="29" fill="#C0C0C0"/>
<rect x="434" y="629" width="1" height="28" fill="#C0C0C0"/>
<rect x="442" y="629" width="1" height="30" fill="#C0C0C0"/>
<rect x="450" y="629" width="1" height="39" fill="#C0C0C0"/>
<rect x="458" y="629" width="1" height="42" fill="#C0C0C0"/>
<rect x="466" y="629" width="1" height="45" fill="#C0C0C0"/>
<rect x="474" y="629" width="1" height="54" fill="#C0C0C0"/>
<rect x="482" y="629" width="1" height="63" fill="#C0C0C0"/>
<rect x="490" y="629" width="1" height="77" fill="#C0C0C0"/>
<rect x="498" y="629" width="1" height="84" fill="#C0C0C0"/>
<rect x="506" y="629" width="1" height="95" fill="#C0C0C0"/>
<rect x="514" y="629" width="1" height="104" fill="#C0C0C0"/>
<rect x="522" y="629" width="1" height="102" fill="#C0C0C0"/>
<rect x="530" y="629" width="1" height="110" fill="#C0C0C0"/>
<rect x="538" y="629" width="1" height="106" fill="#C0C0C0"/>
<rect x="546" y="629" width="1" height="98" fill="#C0C0C0"/>
<rect x="554" y="629" width="1" height="92" fill="#C0C0C0"/>
<rect x="562" y="629" width="1" height="84" fill="#C0C0C0"/>
<rect x="570" y="629" width="1" height="80" fill="#C0C0C0"/>
<rect x="578" y="629" width="1" height="71" fill="#C0C0C0"/>
<rect x="586" y="629" width="1" height="69" fill="#C0C0C0"/>
<rect x="594" y="629" width="1" height="64" fill="#C0C0C0"/>
<rect x="602" y="629" width="1" height="60" fill="#C0C0C0"/>
<rect x="610" y="629" width="1" height="53" fill="#C0C0C0"/>
<rect x="618" y="629" width="1" height="42" fill="#C0C0C0"/>
<rect x="626" y="629" width="1" height="37" fill="#C0C0C0"/>
<rect x="634" y="629" width="1" height="30" fill="#C0C0C0"/>
<rect x="642" y="629" width="1" height="23" fill="#C0C0C0"/>
<rect x="650" y="629" width="1" height="19" fill="#C0C0C0"/>
<rect x="658" y="629" width="1" height="17" fill="#C0C0C0"/>
<rect x="666" y="629" width="1" height="12" fill="#C0C0C0"/>
<rect x="674" y="629" width="1" height="9" fill="#C0C0C0"/>
<rect x="682" y="629" width="1" height="10" fill="#C0C0C0"/>
<rect x="690" y="629" width="1" height="10" fill="#C0C0C0"/>
<rect x="698" y="629" width="1" height="8" fill="#C0C0C0"/>
<rect x="706" y="629" width="1" height="8" fill="#C0C0C0"/>
<rect x="714" y="629" width="1" height="6" fill="#C0C0C0"/>
<rect x="722" y="629" width="1" height="1" fill="#C0C0C0"/>
<rect x="738" y="629" width="1" height="4" fill="#C0C0C0"/>
<rect x="746" y="629" width="1" height="4" fill="#C0C0C0"/>
<rect x="754" y="629" width="1" height="3" fill="#C0C0C0"/>
<rect x="762" y="629" width="1" height="3" fill="#C0C0C0"/>
<rect x="770" y="629" width="1" height="2" fill="#C0C0C0"/>
<rect x="786" y="629" width="1" height="1" fill="#C0C0C0"/>
<rect x="794" y="629" width="1" height="1" fill="#C0C0C0"/>
<rect x="802" y="629" width="1" height="1" fill="#C0C0C0"/>
<rect x="810" y="629" width="1" height="2" fill="#C0C0C0"/>
<rect x="818" y="629" width="1" height="2" fill="#C0C0C0"/>
<rect x="834" y="628" width="1" height="1" fill="#C0C0C0"/>
<rect x="842" y="628" width="1" height="1" fill="#C0C0C0"/>
<rect x="850" y="629" width="1" height="8" fill="#C0C0C0"/>
<rect x="858" y="629" width="1" height="14" fill="#C0C0C0"/>
<rect x="866" y="629" width="1" height="15" fill="#C0C0C0"/>
<rect x="874" y="629" width="1" height="18" fill="#C0C0C0"/>
<rect x="882" y="629" width="1" height="22" fill="#C0C0C0"/>
<rect x="890" y="629" width="1" height="25" fill="#C0C0C0"/>
<rect x="898" y="629" width="1" height="22" fill="#C0C0C0"/>
<rect x="906" y="629" width="1" height="15" fill="#C0C0C0"/>
<rect x="914" y="629" width="1" height="10" fill="#C0C0C0"/>
<rect x="922" y="629" width="1" height="4" fill="#C0C0C0"/>
<rect x="930" y="628" width="1" height="1" fill="#C0C0C0"/>
<rect x="938" y="622" width="1" height="7" fill="#C0C0C0"/>
<rect x="946" y="617" width="1" height="12" fill="#C0C0C0"/>
<rect x="954" y="612" width="1" height="17" fill="#C0C0C0"/>
<rect x="962" y="612" width="1" height="17" fill="#C0C0C0"/>
<rect x="970" y="614" width="1" height="15" fill="#C0C0C0"/>
<rect x="978" y="619" width="1" height="10" fill="#C0C0C0"/>
<rect x="986" y="619" width="1" height="10" fill="#C0C0C0"/>
<rect x="994" y="618" width="1" height="11" fill="#C0C0C0"/>
<rect x="1002" y="618" width="1" height="11" fill="#C0C0C0"/>
<rect x="1010" y="615" width="1" height="14" fill="#C0C0C0"/>
<rect x="1018" y="614" width="1" height="15" fill="#C0C0C0"/>
<rect x="1026" y="614" width="1" height="15" fill="#C0C0C0"/>
<rect x="1034" y="614" width="1" height="15" fill="#C0C0C0"/>
<rect x="1042" y="616" width="1" height="13" fill="#C0C0C0"/>
<rect x="1050" y="619" width="1" height="10" fill="#C0C0C0"/>
<rect x="1058" y="621" width="1" height="8" fill="#C0C0C0"/>
<rect x="1066" y="616" width="1" height="13" fill="#C0C0C0"/>
<rect x="1074" y="612" width="1" height="17" fill="#C0C0C0"/>
<rect x="1082" y="602" width="1" height="27" fill="#C0C0C0"/>
<rect x="1090" y="597" width="1" height="32" fill="#C0C0C0"/>
<rect x="1098" y="592" width="1" height="37" fill="#C0C0C0"/>
<rect x="1106" y="588" width="1" height="41" fill="#C0C0C0"/>
<rect x="1114" y="589" width="1" height="40" fill="#C0C0C0"/>
<rect x="1122" y="590" width="1" height="39" fill="#C0C0C0"/>
<rect x="1130" y="592" width="1" height="37" fill="#C0C0C0"/>
<rect x="1138" y="594" width="1" height="35" fill="#C0C0C0"/>
<rect x="1146" y="601" width="1" height="28" fill="#C0C0C0"/>
<rect x="1154" y="605" width="1" height="24" fill="#C0C0C0"/>
<rect x="1162" y="609" width="1" height="20" fill="#C0C0C0"/>
<rect x="1170" y="609" width="1" height="20" fill="#C0C0C0"/>
<rect x="1178" y="612" width="1" height="17" fill="#C0C0C0"/>
<rect x="1186" y="614" width="1" height="15" fill="#C0C0C0"/>
<rect x="1194" y="619" width="1" height="10" fill="#C0C0C0"/>
<rect x="1202" y="624" width="1" height="5" fill="#C0C0C0"/>
<rect x="1210" y="627" width="1" height="2" fill="#C0C0C0"/>
<rect x="1218" y="628" width="1" height="1" fill="#C0C0C0"/>
<rect x="1234" y="629" width="1" height="4" fill="#C0C0C0"/>
<rect x="1242" y="629" width="1" height="7" fill="#C0C0C0"/>
<rect x="1250" y="629" width="1" height="5" fill="#C0C0C0"/>
<rect x="1258" y="629" width="1" height="4" fill="#C0C0C0"/>
<rect x="1266" y="629" width="1" height="4" fill="#C0C0C0"/>
<rect x="1274" y="629" width="1" height="7" fill="#C0C0C0"/>
<rect x="1282" y="629" width="1" height="9" fill="#C0C0C0"/>
<rect x="1290" y="629" width="1" height="5" fill="#C0C0C0"/>
<rect x="1298" y="629" width="1" height="3" fill="#C0C0C0"/>
<rect x="1306" y="628" width="1" height="1" fill="#C0C0C0"/>
<rect x="1322" y="627" width="1" height="2" fill="#C0C0C0"/>
<rect x="1330" y="625" width="1" height="4" fill="#C0C0C0"/>
<rect x="1338" y="625" width="1" height="4" fill="#C0C0C0"/>
<rect x="1346" y="628" width="1" height="1" fill="#C0C0C0"/>
<rect x="1354" y="627" width="1" height="2" fill="#C0C0C0"/>
<rect x="1362" y="624" width="1" height="5" fill="#C0C0C0"/>
<rect x="1370" y="622" width="1" height="7" fill="#C0C0C0"/>
<rect x="1378" y="620" width="1" height="9" fill="#C0C0C0"/>
<rect x="1386" y="621" width="1" height="8" fill="#C0C0C0"/>
<rect x="1394" y="620" width="1" height="9" fill="#C0C0C0"/>
<rect x="1402" y="622" width="1" height="7" fill="#C0C0C0"/>
<rect x="1410" y="623" width="1" height="6" fill="#C0C0C0"/>
<rect x="1418" y="624" width="1" height="5" fill="#C0C0C0"/>
<rect x="1426" y="627" width="1" height="2" fill="#C0C0C0"/>
<rect x="1442" y="629" width="1" height="4" fill="#C0C0C0"/>
<rect x="1450" y="629" width="1" height="7" fill="#C0C0C0"/>
<polyline points="0.0,636.7 16.7,632.0 33.3,625.3 50.0,617.7 66.7,610.3 83.3,604.3 100.0,598.7 116.7,596.7 133.3,595.3 150.0,594.3 166.7,594.3 183.3,594.3 200.0,595.3 216.7,599.3 233.3,607.7 250.0,622.0 266.7,635.3 283.3,646.0 293.3,651.0 306.7,652.7 320.0,651.0 333.3,647.0 346.7,641.7 360.0,638.3 373.3,637.0 386.7,638.3 400.0,640.3 416.7,646.0 433.3,651.0 450.0,655.3 466.7,662.7 483.3,669.3 500.0,682.7 516.7,699.3 533.3,712.7 546.7,722.7 563.3,727.0 563.3,727.0 573.3,726.0 586.7,720.0 600.0,711.7 613.3,701.0 626.7,691.0 640.0,681.0 653.3,671.0 666.7,661.0 680.0,652.7 693.3,646.0 706.7,641.7 723.3,637.7 740.0,635.3 760.0,634.0 780.0,632.0 800.0,631.3 820.0,631.0 843.3,630.3 860.0,633.3 876.7,636.7 893.3,641.0 906.7,644.3 915.0,646.7 926.7,645.3 940.0,641.0 953.3,634.3 966.7,626.7 980.0,621.0 993.3,617.7 1010.0,615.3 1026.7,615.3 1043.3,616.0 1060.0,616.3 1073.3,615.3 1086.7,612.0 1100.0,608.3 1113.3,603.3 1126.7,599.3 1130.0,597.0 1140.0,594.3 1150.0,593.3 1160.0,594.3 1173.3,597.7 1186.7,602.7 1200.0,607.7 1213.3,614.3 1226.7,618.7 1240.0,624.3 1253.3,628.3 1266.7,630.0 1280.0,633.3 1293.3,635.0 1306.7,634.3 1320.0,633.3 1336.7,631.0 1353.3,628.3 1370.0,626.0 1386.7,624.3 1403.3,623.3 1420.0,622.3 1433.3,622.7 1450.0,625.3" fill="none" stroke="#FF0000" stroke-width="1" stroke-dasharray="3 3"/>
</g>
<text x="-0.5" y="591" font-size="9.3px">MACD(12,26,9) -76.29 40.95</text>
<text x="1691" y="588.3">596.11</text>
<text x="1691" y="632.3">0.00</text>
<text x="1691" y="744.3">-1415.19</text>
<rect x="1688" y="582" width="2" height="1" fill="#000"/><rect x="1688" y="747" width="2" height="1" fill="#000"/>
<g shape-rendering="crispEdges">
<line x1="0" y1="786.5" x2="1687" y2="786.5" stroke="#C0C0C0" stroke-width="1" stroke-dasharray="3 3"/>
<line x1="0" y1="837.5" x2="1687" y2="837.5" stroke="#C0C0C0" stroke-width="1" stroke-dasharray="3 3"/>
<line x1="0" y1="898.5" x2="1687" y2="898.5" stroke="#C0C0C0" stroke-width="1" stroke-dasharray="3 3"/>
<polyline points="-5.5,815.7 2.5,812.3 10.5,816.7 18.5,812.3 26.5,810.3 34.5,814.3 42.5,811.3 50.5,814.3 58.5,812.3 66.5,804.3 74.5,803.0 82.5,808.3 90.5,802.3 98.5,809.0 106.5,819.3 114.5,815.3 122.5,826.3 130.5,814.3 138.5,813.3 146.5,807.3 154.5,813.0 162.5,815.7 170.5,812.3 178.5,808.3 186.5,823.3 194.5,844.3 202.5,835.3 210.5,845.7 218.5,844.3 226.5,859.0 234.5,869.0 242.5,870.0 250.5,871.3 258.5,855.3 266.5,856.7 274.5,841.0 282.5,843.0 290.5,847.3 298.5,836.3 306.5,831.7 314.5,835.3 322.5,833.3 330.5,831.0 338.5,841.0 346.5,837.3 354.5,841.0 362.5,846.0 370.5,857.7 378.5,854.3 386.5,858.3 394.5,854.3 402.5,864.3 410.5,860.3 418.5,859.3 426.5,862.7 434.5,845.3 442.5,859.3 450.5,874.7 458.5,860.0 466.5,864.3 474.5,875.0 482.5,876.7 490.5,885.7 498.5,879.3 506.5,885.0 514.5,886.7 522.5,863.3 530.5,875.3 538.5,857.7 546.5,848.3 554.5,851.7 562.5,848.3 570.5,852.0 578.5,844.3 586.5,851.0 594.5,847.3 602.5,848.3 610.5,841.7 618.5,833.3 626.5,841.0 634.5,836.0 642.5,833.3 650.5,837.7 658.5,839.3 666.5,834.3 674.5,836.0 682.5,842.3 690.5,840.0 698.5,839.0 706.5,843.0 714.5,835.0 722.5,829.3 730.5,831.0 738.5,848.3 746.5,842.3 754.5,837.7 762.5,840.7 770.5,836.7 778.5,830.3 786.5,836.3 794.5,838.0 802.5,844.3 810.5,844.3 818.5,839.3 826.5,832.3 834.5,830.3 842.5,836.3 850.5,858.3 858.5,855.3 866.5,846.7 874.5,851.0 882.5,852.3 890.5,854.3 898.5,840.7 906.5,832.7 914.5,828.3 922.5,827.0 930.5,821.3 938.5,821.0 946.5,819.0 954.5,816.3 962.5,831.0 970.5,834.3 978.5,844.3 986.5,832.3 994.5,831.0 1002.5,832.0 1010.5,827.3 1018.5,831.0 1026.5,822.3 1034.5,831.7 1042.5,836.0 1050.5,841.0 1058.5,837.3 1066.5,821.0 1074.5,819.0 1082.5,806.7 1090.5,814.3 1098.5,813.0 1106.5,811.3 1114.5,823.3 1122.5,822.0 1130.5,827.0 1138.5,828.3 1146.5,840.0 1154.5,835.7 1162.5,838.3 1170.5,827.7 1178.5,837.0 1186.5,834.3 1194.5,845.0 1202.5,846.3 1210.5,843.3 1218.5,841.3 1226.5,845.3 1234.5,847.3 1242.5,850.0 1250.5,837.0 1258.5,834.3 1266.5,840.0 1274.5,849.3 1282.5,848.3 1290.5,836.7 1298.5,829.3 1306.5,832.0 1314.5,833.0 1322.5,828.7 1330.5,827.3 1338.5,832.3 1346.5,845.0 1354.5,835.0 1362.5,825.3 1370.5,827.3 1378.5,827.3 1386.5,836.3 1394.5,830.3 1402.5,838.3 1410.5,838.3 1418.5,838.3 1426.5,842.3 1434.5,849.0 1442.5,853.3 1450.5,854.3" fill="none" stroke="#1E90FF" stroke-width="1" />
</g>
<text x="-0.5" y="763" font-size="9.3px">RSI(14) 40.3720</text>
<text x="1691" y="760.8">100</text>
<text x="1691" y="789.8">80</text>
<text x="1691" y="840.8">50</text>
<text x="1691" y="901.8">15</text>
<text x="1691" y="921.3">0</text>
<rect x="-6" y="925" width="1" height="3" fill="#000" shape-rendering="crispEdges"/>
<text x="-2" y="937">2 Dec 2019</text>
<rect x="58" y="925" width="1" height="3" fill="#000" shape-rendering="crispEdges"/>
<text x="57" y="937">24 Dec 2019</text>
<rect x="122" y="925" width="1" height="3" fill="#000" shape-rendering="crispEdges"/>
<text x="121" y="937">8 Jan 2020</text>
<rect x="186" y="925" width="1" height="3" fill="#000" shape-rendering="crispEdges"/>
<text x="185" y="937">20 Jan 2020</text>
<rect x="250" y="925" width="1" height="3" fill="#000" shape-rendering="crispEdges"/>
<text x="249" y="937">3 Feb 2020</text>
<rect x="314" y="925" width="1" height="3" fill="#000" shape-rendering="crispEdges"/>
<text x="313" y="937">13 Feb 2020</text>
<rect x="378" y="925" width="1" height="3" fill="#000" shape-rendering="crispEdges"/>
<text x="377" y="937">25 Feb 2020</text>
<rect x="442" y="925" width="1" height="3" fill="#000" shape-rendering="crispEdges"/>
<text x="441" y="937">6 Mar 2020</text>
<rect x="506" y="925" width="1" height="3" fill="#000" shape-rendering="crispEdges"/>
<text x="505" y="937">18 Mar 2020</text>
<rect x="570" y="925" width="1" height="3" fill="#000" shape-rendering="crispEdges"/>
<text x="569" y="937">30 Mar 2020</text>
<rect x="634" y="925" width="1" height="3" fill="#000" shape-rendering="crispEdges"/>
<text x="633" y="937">9 Apr 2020</text>
<rect x="698" y="925" width="1" height="3" fill="#000" shape-rendering="crispEdges"/>
<text x="697" y="937">23 Apr 2020</text>
<rect x="762" y="925" width="1" height="3" fill="#000" shape-rendering="crispEdges"/>
<text x="761" y="937">7 May 2020</text>
<rect x="826" y="925" width="1" height="3" fill="#000" shape-rendering="crispEdges"/>
<text x="825" y="937">19 May 2020</text>
<rect x="890" y="925" width="1" height="3" fill="#000" shape-rendering="crispEdges"/>
<text x="889" y="937">29 May 2020</text>
<rect x="954" y="925" width="1" height="3" fill="#000" shape-rendering="crispEdges"/>
<text x="953" y="937">10 Jun 2020</text>
<rect x="1018" y="925" width="1" height="3" fill="#000" shape-rendering="crispEdges"/>
<text x="1017" y="937">22 Jun 2020</text>
<rect x="1082" y="925" width="1" height="3" fill="#000" shape-rendering="crispEdges"/>
<text x="1081" y="937">6 Jul 2020</text>
<rect x="1146" y="925" width="1" height="3" fill="#000" shape-rendering="crispEdges"/>
<text x="1145" y="937">16 Jul 2020</text>
<rect x="1210" y="925" width="1" height="3" fill="#000" shape-rendering="crispEdges"/>
<text x="1209" y="937">28 Jul 2020</text>
<rect x="1274" y="925" width="1" height="3" fill="#000" shape-rendering="crispEdges"/>
<text x="1273" y="937">7 Aug 2020</text>
<rect x="1338" y="925" width="1" height="3" fill="#000" shape-rendering="crispEdges"/>
<text x="1337" y="937">19 Aug 2020</text>
<rect x="1402" y="925" width="1" height="3" fill="#000" shape-rendering="crispEdges"/>
<text x="1401" y="937">31 Aug 2020</text>
</svg>
<div id="panel" style="position:absolute;left:0;top:43px;width:216px;height:64px;font-family:'Liberation Sans',sans-serif;">
 <div style="position:absolute;left:0;top:0;width:218px;height:66px;background:#fff"></div>
 <div style="position:absolute;left:0;top:0;width:49px;height:24px;background:linear-gradient(#FA5252,#E23434)"></div>
 <div style="position:absolute;left:164px;top:0;width:52px;height:24px;background:linear-gradient(#FA5252,#E23434)"></div>
 <div style="position:absolute;left:0;top:24px;width:106px;height:40px;background:linear-gradient(#DC2C2C,#C81A1A 55%,#B00000)"></div>
 <div style="position:absolute;left:108px;top:24px;width:108px;height:40px;background:linear-gradient(#DC2C2C,#C81A1A 55%,#B00000)"></div>
 <div style="position:absolute;left:0;top:0;width:49px;height:1px;background:#D43434"></div>
 <div style="position:absolute;left:164px;top:0;width:52px;height:1px;background:#D43434"></div>
 <div style="position:absolute;left:1px;top:23px;width:44px;height:1px;background:#8C0000"></div>
 <div style="position:absolute;left:1px;top:24px;width:44px;height:1px;background:#F07878"></div>
 <div style="position:absolute;left:168px;top:23px;width:44px;height:1px;background:#8C0000"></div>
 <div style="position:absolute;left:168px;top:24px;width:44px;height:1px;background:#F07878"></div>
 <div style="position:absolute;left:8.9px;top:5px;color:#fff;font-size:12px;line-height:14px;transform-origin:0 0;transform:scaleX(0.87)">SELL</div>
 <div style="position:absolute;left:177.6px;top:5px;color:#fff;font-size:12px;line-height:14px;transform-origin:0 0;transform:scaleX(0.94)">BUY</div>
 <div style="position:absolute;left:51px;top:0px;width:109px;height:19.6px;border:1px solid #ABADB3;background:#fff;box-sizing:content-box"></div>
 <div style="position:absolute;left:53px;top:1.6px;width:18px;height:18px;background:linear-gradient(#F2F2F2 0,#EBEBEB 49%,#DDDDDD 50%,#CFCFCF);border-right:1px solid #ABADB3"></div>
 <div style="position:absolute;left:141px;top:1.6px;width:19px;height:18px;background:linear-gradient(#F2F2F2 0,#EBEBEB 49%,#DDDDDD 50%,#CFCFCF);border-left:1px solid #ABADB3"></div>
 <svg style="position:absolute;left:59px;top:9px" width="6" height="4"><polygon points="0,0 6,0 3,3.5" fill="#5565C8"/></svg>
 <svg style="position:absolute;left:147.5px;top:8.5px" width="6" height="4"><polygon points="0,3.5 6,3.5 3,0" fill="#5565C8"/></svg>
 <div style="position:absolute;left:100px;top:4px;width:37.4px;text-align:right;color:#000;font-size:12.5px;line-height:15px">1.00</div>
 <div style="position:absolute;left:13px;top:43.6px;color:#fff;font-size:12.2px;font-weight:bold;line-height:14px;letter-spacing:0.38px">24471</div>
 <div style="position:absolute;left:123px;top:43.6px;color:#fff;font-size:12.2px;font-weight:bold;line-height:14px;letter-spacing:0.38px">24488</div>
 <div style="position:absolute;left:52.3px;top:50.8px;width:4.7px;height:4.5px;border-radius:1.6px;background:#fff"></div>
 <div style="position:absolute;left:162.8px;top:50.8px;width:4.7px;height:4.5px;border-radius:1.6px;background:#fff"></div>
 <div style="position:absolute;left:59.3px;top:26.4px;color:#fff;font-size:34.3px;line-height:34.3px;transform-origin:0 0;transform:scaleX(0.85)">5</div>
 <div style="position:absolute;left:170.1px;top:26.4px;color:#fff;font-size:34.3px;line-height:34.3px;transform-origin:0 0;transform:scaleX(0.85)">5</div>
</div>

<div id="tb">
<svg width="1734" height="18" viewBox="0 0 1734 18" style="position:absolute;left:0;top:0" font-family='"Liberation Sans","Noto Sans CJK SC",sans-serif'>
<rect x="-2" y="-2" width="12" height="15.5" rx="1.5" fill="#fff" stroke="#3C7FC8" stroke-width="1.4"/>
<rect x="0" y="2" width="9" height="1" fill="#9DB8E8"/>
<rect x="0" y="5" width="9" height="1" fill="#9DB8E8"/>
<rect x="0" y="8" width="9" height="1" fill="#9DB8E8"/>
<rect x="0" y="11" width="9" height="1" fill="#9DB8E8"/>
<rect x="0" y="4.5" width="1.5" height="1.2" fill="#E00000"/><rect x="0" y="8" width="1.5" height="1.2" fill="#E00000"/>
<path d="M23.5 -1H33L35.5 1.5V12H23.5Z" fill="#F4F1EA" stroke="#B8B0A0" stroke-width="1"/>
<path d="M26 2v4M33 2v4M26 4h7" stroke="#707070" stroke-width="1" fill="none"/>
<line x1="35" y1="11.5" x2="39.5" y2="16" stroke="#D4A020" stroke-width="2.4" stroke-linecap="round"/>
<circle cx="31" cy="7.5" r="5" fill="#CFE2F7" fill-opacity="0.85" stroke="#7FA8DC" stroke-width="1.2"/>
<rect x="48" y="0" width="1" height="17" fill="#A0A0A0" shape-rendering="crispEdges"/>
<path d="M58.5 -1H67L70 2V12.5H58.5Z" fill="#FCFCFC" stroke="#8C8C8C" stroke-width="1"/>
<path d="M61 2h5M61 5h7M61 8h4" stroke="#8C8C8C" stroke-width="1.2"/>
<path d="M66 5.5h4v4h4v4h-4v4h-4v-4h-4v-4h4z" fill="#22C022" stroke="#0C8A0C" stroke-width="0.8"/>
<text x="77" y="10" font-size="12px" fill="#000">新订单</text>
<defs><linearGradient id="gb" x1="0" y1="0" x2="1" y2="1"><stop offset="0" stop-color="#F8DC70"/><stop offset="1" stop-color="#C88C10"/></linearGradient></defs><path d="M131 -1L141 6.5L134 15L125 9.5Z" fill="url(#gb)" stroke="#A87008" stroke-width="1"/>
<path d="M125 9.5L134 15L134.5 13L126.5 8Z" fill="#FFF2C0" stroke="#B07810" stroke-width="0.6"/>
<rect x="155.5" y="-1" width="10" height="10" fill="#3C8CE0" stroke="#1C5CB0" stroke-width="0.8"/>
<rect x="158" y="2" width="6" height="1.5" fill="#D0E4FA"/><rect x="158" y="5" width="6" height="1.5" fill="#D0E4FA"/>
<path d="M156 14.5a3 3 0 0 1 0.5-6a4 4 0 0 1 7.5-0.5a3.3 3.3 0 0 1 2 6.5Z" fill="#F4F7FB" stroke="#8CA0C0" stroke-width="1"/>
<g fill="none" stroke-width="1.300"><path d="M185.62 13.75A8 8 0 0 1 185.62 -0.75" stroke="#88A0E0"/><path d="M187.29 11.20A5 5 0 0 1 187.29 1.80" stroke="#5078D0"/><path d="M192.38 -0.75A8 8 0 0 1 190.39 14.38" stroke="#80BC90"/><path d="M190.71 1.80A5 5 0 0 1 189.00 11.50" stroke="#50A868"/></g>
<circle cx="189" cy="6.5" r="1.8" fill="#3060C8"/><rect x="188.3" y="7" width="1.5" height="7.500" fill="#20A040"/>
<path d="M209 6.5L223.500 6.5L216 14.500Z" fill="#F8D848" stroke="#D0A020" stroke-width="0.8"/>
<path d="M207.500 4.500C210 7.500 222 7.500 224.500 4.500C222 3 220 3 219.500 -1H212.500C212 3 210 3 207.500 4.500Z" fill="#58A8E0" stroke="#3080C0" stroke-width="0.8"/>
<circle cx="220.500" cy="10.500" r="4.200" fill="#D82010"/><rect x="218.800" y="8.800" width="3.400" height="3.400" fill="#fff"/>
<text x="229" y="10" font-size="12px" fill="#000">自动交易</text>
<rect x="284" y="0" width="1" height="17" fill="#A0A0A0" shape-rendering="crispEdges"/>
<rect x="287" y="1" width="3" height="1" fill="#B4B4B4" shape-rendering="crispEdges"/>
<rect x="287" y="3" width="3" height="1" fill="#B4B4B4" shape-rendering="crispEdges"/>
<rect x="287" y="5" width="3" height="1" fill="#B4B4B4" shape-rendering="crispEdges"/>
<rect x="287" y="7" width="3" height="1" fill="#B4B4B4" shape-rendering="crispEdges"/>
<rect x="287" y="9" width="3" height="1" fill="#B4B4B4" shape-rendering="crispEdges"/>
<rect x="287" y="11" width="3" height="1" fill="#B4B4B4" shape-rendering="crispEdges"/>
<rect x="287" y="13" width="3" height="1" fill="#B4B4B4" shape-rendering="crispEdges"/>
<rect x="287" y="15" width="3" height="1" fill="#B4B4B4" shape-rendering="crispEdges"/>
<g stroke="#5C5C5C" stroke-width="1" fill="none"><path d="M302.5 1.5V14.5M300.0 12.5H313.5M300.7 3.3L302.5 1.2L304.3 3.3M311.7 10.700L313.8 12.5L311.7 14.300"/></g>
<path d="M306 10.500h2.500V3.500H311" stroke="#109010" stroke-width="1.400" fill="none"/>
<rect x="322" y="0" width="1" height="17" fill="#A0A0A0" shape-rendering="crispEdges"/>
<rect x="323" y="0" width="25" height="17" fill="#F8F8F8" shape-rendering="crispEdges"/>
<g stroke="#5C5C5C" stroke-width="1" fill="none"><path d="M330.5 1.5V14.5M328.0 12.5H341.5M328.7 3.3L330.5 1.2L332.3 3.3M339.7 10.700L341.8 12.5L339.7 14.300"/></g>
<rect x="336" y="0" width="1" height="11.500" fill="#0A700A"/><rect x="334.500" y="0.500" width="4" height="8.500" fill="#30D030" stroke="#0A800A" stroke-width="1"/>
<g stroke="#5C5C5C" stroke-width="1" fill="none"><path d="M358.5 1.5V14.5M356.0 12.5H369.5M356.7 3.3L358.5 1.2L360.3 3.3M367.7 10.700L369.8 12.5L367.7 14.300"/></g>
<path d="M358.500 11C361 5 363.500 3.500 365 4.500S368 8 369.500 8.500" stroke="#209020" stroke-width="1.200" fill="none"/>
<rect x="379" y="0" width="1" height="17" fill="#A0A0A0" shape-rendering="crispEdges"/>
<line x1="397.5" y1="8.500" x2="403.0" y2="13.500" stroke="#D8B030" stroke-width="2.600" stroke-linecap="round"/>
<circle cx="393.5" cy="4.500" r="5.300" fill="#D4E8FA" stroke="#4C8CD8" stroke-width="1.300"/>
<rect x="390.5" y="3.800" width="6" height="1.500" fill="#3C78D0"/>
<rect x="392.75" y="1.500" width="1.500" height="6" fill="#3C78D0"/>
<line x1="425.5" y1="8.500" x2="431.0" y2="13.500" stroke="#D8B030" stroke-width="2.600" stroke-linecap="round"/>
<circle cx="421.5" cy="4.500" r="5.300" fill="#D4E8FA" stroke="#4C8CD8" stroke-width="1.300"/>
<rect x="418.5" y="3.800" width="6" height="1.500" fill="#3C78D0"/>
<rect x="444" y="-1" width="7.500" height="7.500" fill="#48A828"/><rect x="445.5" y="2" width="4.500" height="2.500" fill="#E8F0F8"/>
<rect x="452.5" y="-1" width="7.500" height="7.500" fill="#2858C8"/><rect x="454.0" y="2" width="4.500" height="2.500" fill="#E8F0F8"/>
<rect x="444" y="7" width="7.500" height="7.500" fill="#2858C8"/><rect x="445.5" y="10" width="4.500" height="2.500" fill="#E8F0F8"/>
<rect x="452.5" y="7" width="7.500" height="7.500" fill="#48A828"/><rect x="454.0" y="10" width="4.500" height="2.500" fill="#E8F0F8"/>
<rect x="469" y="0" width="1" height="17" fill="#A0A0A0" shape-rendering="crispEdges"/>
<rect x="474" y="0" width="25" height="17" fill="#F8F8F8" shape-rendering="crispEdges"/>
<rect x="474" y="0" width="1" height="17" fill="#A0A0A0" shape-rendering="crispEdges"/>
<g stroke="#5C5C5C" stroke-width="1" fill="none"><path d="M482.5 1.5V14.5M480.0 12.5H493.5M480.7 3.3L482.5 1.2L484.3 3.3M491.7 10.700L493.8 12.5L491.7 14.300"/></g>
<polygon points="487,2.500 487,9.500 491.500,6" fill="#30C030" stroke="#109010" stroke-width="0.800"/>
<rect x="502" y="0" width="1" height="17" fill="#A0A0A0" shape-rendering="crispEdges"/>
<rect x="503" y="0" width="25" height="17" fill="#F8F8F8" shape-rendering="crispEdges"/>
<g stroke="#5C5C5C" stroke-width="1" fill="none"><path d="M510.5 1.5V14.5M508.0 12.5H521.5M508.7 3.3L510.5 1.2L512.3 3.3M519.7 10.700L521.8 12.5L519.7 14.300"/></g>
<rect x="516" y="1" width="1.200" height="10.500" fill="#2070C0"/><path d="M522.500 6.500H518M520 4.500L517.800 6.500L520 8.500" stroke="#E05010" stroke-width="1.200" fill="none"/>
<rect x="531" y="0" width="1" height="17" fill="#A0A0A0" shape-rendering="crispEdges"/>
<path d="M541.500 -1H549L552.500 2V12.500H541.500Z" fill="#FCFCFC" stroke="#8C8C8C" stroke-width="1"/>
<path d="M544.500 2.500c-1 0 -1.500 1 -1.500 2.500v3" stroke="#606060" stroke-width="1.200" fill="none"/>
<path d="M549 5.500h4v4h4v4h-4v4h-4v-4h-4v-4h4z" fill="#22C022" stroke="#0C8A0C" stroke-width="0.800"/>
<polygon points="562.7,6 568.2,6 565.45,9" fill="#000"/>
<circle cx="587" cy="6.500" r="7" fill="#F8FAFF" stroke="#2868D0" stroke-width="2.400"/>
<path d="M587 2.500V7H590" stroke="#505050" stroke-width="1.200" fill="none"/>
<polygon points="602,6 607.5,6 604.75,9" fill="#000"/>
<rect x="618.500" y="-1" width="15.500" height="15" fill="#fff" stroke="#3C78D0" stroke-width="1.200"/><rect x="618.500" y="-1" width="15.500" height="3" fill="#3C78D0"/>
<path d="M620 6.500l3 -1l3 1l3 -1.500l3 0.500" stroke="#C02010" stroke-width="1.200" fill="none"/><path d="M620 11.500l3 -1l3 1l3 -2l3 1.500" stroke="#20A030" stroke-width="1.200" fill="none"/><rect x="619" y="8" width="14.500" height="0.800" fill="#3C78D0"/>
<polygon points="641,6 646.5,6 643.75,9" fill="#000"/>
<rect x="652" y="0" width="1" height="17" fill="#A0A0A0" shape-rendering="crispEdges"/>
<rect x="656" y="1" width="3" height="1" fill="#B4B4B4" shape-rendering="crispEdges"/>
<rect x="656" y="3" width="3" height="1" fill="#B4B4B4" shape-rendering="crispEdges"/>
<rect x="656" y="5" width="3" height="1" fill="#B4B4B4" shape-rendering="crispEdges"/>
<rect x="656" y="7" width="3" height="1" fill="#B4B4B4" shape-rendering="crispEdges"/>
<rect x="656" y="9" width="3" height="1" fill="#B4B4B4" shape-rendering="crispEdges"/>
<rect x="656" y="11" width="3" height="1" fill="#B4B4B4" shape-rendering="crispEdges"/>
<rect x="656" y="13" width="3" height="1" fill="#B4B4B4" shape-rendering="crispEdges"/>
<rect x="656" y="15" width="3" height="1" fill="#B4B4B4" shape-rendering="crispEdges"/>
<rect x="662" y="0" width="25" height="17" fill="#F8F8F8" shape-rendering="crispEdges"/>
<rect x="662" y="0" width="1" height="17" fill="#A0A0A0" shape-rendering="crispEdges"/>
<path d="M670 -1V11.500L672.800 9L675 13.500L676.800 12.600L674.600 8.300H678Z" fill="#404040"/>
<path d="M702.500 0V14.500M695 7.500H710" stroke="#505050" stroke-width="1" fill="none" shape-rendering="crispEdges"/>
<rect x="719" y="0" width="1" height="17" fill="#A0A0A0" shape-rendering="crispEdges"/>
<rect x="736" y="1.500" width="1" height="12.500" fill="#505050" shape-rendering="crispEdges"/>
<rect x="759" y="7" width="12.500" height="1" fill="#505050" shape-rendering="crispEdges"/>
<line x1="786.500" y1="13.500" x2="799" y2="2" stroke="#505050" stroke-width="1.100"/>
<g stroke="#505050" stroke-width="1" fill="none"><path d="M812.500 8.500L825 0.500M813.500 12.500L827 3.500M815.500 10.500l1.500 -5M818.500 9l1.500 -5.500M821.500 7l1.500 -5.500M816 13.500L822 9.500"/></g>
<text x="823.300" y="15.800" font-size="6.500px" font-weight="bold" fill="#404040">E</text>
<line x1="842" y1="0.5" x2="855" y2="0.5" stroke="#505050" stroke-width="1" stroke-dasharray="1 1" shape-rendering="crispEdges"/>
<line x1="842" y1="3.5" x2="855" y2="3.5" stroke="#505050" stroke-width="1" stroke-dasharray="1 1" shape-rendering="crispEdges"/>
<line x1="842" y1="6.5" x2="855" y2="6.5" stroke="#505050" stroke-width="1" stroke-dasharray="1 1" shape-rendering="crispEdges"/>
<line x1="842" y1="10.5" x2="855" y2="10.5" stroke="#505050" stroke-width="1" stroke-dasharray="1 1" shape-rendering="crispEdges"/>
<text x="851.500" y="15.800" font-size="6.500px" font-weight="bold" fill="#404040">F</text>
<text x="872.300" y="12" font-size="12.200px" fill="#606060">A</text>
<rect x="898.500" y="1.500" width="12" height="12" fill="none" stroke="#707070" stroke-width="1" stroke-dasharray="1 1" shape-rendering="crispEdges"/>
<text x="901.200" y="12" font-size="11px" fill="#606060" font-weight="bold">T</text>
<path d="M926 4.500L929.500 1L933 4.500ZM927.500 7l2.500 3l4 -5.500" fill="#404040" stroke="#404040" stroke-width="1"/><path d="M933 10.500L936.500 14L940 10.500Z" fill="#404040"/>
<polygon points="946.5,6 952.0,6 949.25,9" fill="#000"/>
<rect x="958" y="0" width="1" height="17" fill="#A0A0A0" shape-rendering="crispEdges"/>
<rect x="962" y="1" width="3" height="1" fill="#B4B4B4" shape-rendering="crispEdges"/>
<rect x="962" y="3" width="3" height="1" fill="#B4B4B4" shape-rendering="crispEdges"/>
<rect x="962" y="5" width="3" height="1" fill="#B4B4B4" shape-rendering="crispEdges"/>
<rect x="962" y="7" width="3" height="1" fill="#B4B4B4" shape-rendering="crispEdges"/>
<rect x="962" y="9" width="3" height="1" fill="#B4B4B4" shape-rendering="crispEdges"/>
<rect x="962" y="11" width="3" height="1" fill="#B4B4B4" shape-rendering="crispEdges"/>
<rect x="962" y="13" width="3" height="1" fill="#B4B4B4" shape-rendering="crispEdges"/>
<rect x="962" y="15" width="3" height="1" fill="#B4B4B4" shape-rendering="crispEdges"/>
<rect x="1136" y="0" width="25" height="17" fill="#F8F8F8" shape-rendering="crispEdges"/>
<rect x="1136" y="0" width="1" height="17" fill="#A0A0A0" shape-rendering="crispEdges"/>
<text x="973" y="10.800" font-size="10px" fill="#484848">M1</text>
<text x="1001.3" y="10.800" font-size="10px" fill="#484848">M5</text>
<text x="1027.5" y="10.800" font-size="10px" fill="#484848">M15</text>
<text x="1055.5" y="10.800" font-size="10px" fill="#484848">M30</text>
<text x="1086.5" y="10.800" font-size="10px" fill="#484848">H1</text>
<text x="1113.8" y="10.800" font-size="10px" fill="#484848">H4</text>
<text x="1142.4" y="10.800" font-size="10px" fill="#484848">D1</text>
<text x="1170" y="10.800" font-size="10px" fill="#484848">W1</text>
<text x="1196.9" y="10.800" font-size="10px" fill="#484848">MN</text>
<rect x="1219" y="0" width="1" height="17" fill="#A0A0A0" shape-rendering="crispEdges"/>
<line x1="1686" y1="8.500" x2="1682" y2="12.500" stroke="#2858C8" stroke-width="2.200" stroke-linecap="round"/><circle cx="1689.500" cy="4.500" r="3.800" fill="#F4F8FF" stroke="#2858C8" stroke-width="1.600"/>
<path d="M1709 8a4.500 3.500 0 1 1 5 3.300l-2.500 2.200l0.300 -2.200a4.500 3.500 0 0 1 -2.800 -3.300Z" fill="#F4F4F4" stroke="#A0A0A0" stroke-width="1"/>
<path d="M1717 4a5 4 0 1 1 5.500 3.800l0.500 2.200l-2.800 -2a5 4 0 0 1 -3.200 -4Z" fill="#FAFAFA" stroke="#A8A8A8" stroke-width="1"/>
</svg></div>
<div class="l18" style="top:18px;background:#D9D9D9"></div>
<div class="l18" style="top:19px;background:#A0A0A0"></div>
<div class="l18" style="top:20px;background:#696969"></div>
</body></html>
